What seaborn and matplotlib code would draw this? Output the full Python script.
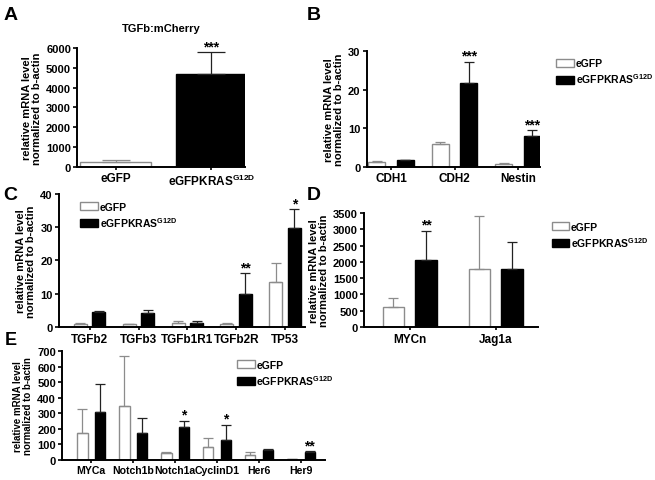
import numpy as np
import pandas as pd
import matplotlib
matplotlib.use('Agg')
import matplotlib.pyplot as plt
import seaborn as sns
from matplotlib.patches import Patch

# Panel A: TGFb:mCherry
a_groups = ['eGFP', 'eGFPKRAS']
a_means = [270, 4700]
a_errs = [90, 1080]
a_stars = ['', '***']

# Panel B
b_genes = ['CDH1', 'CDH2', 'Nestin']
b_gfp = [1.2, 5.8, 0.7]
b_gfp_err = [0.4, 0.6, 0.3]
b_kras = [1.8, 21.8, 8.0]
b_kras_err = [0.05, 5.4, 1.5]
b_gfp_stars = ['', '', '']
b_kras_stars = ['', '***', '***']

# Panel C
c_genes = ['TGFb2', 'TGFb3', 'TGFb1R1', 'TGFb2R', 'TP53']
c_gfp = [1.0, 0.9, 1.2, 0.9, 13.6]
c_gfp_err = [0.2, 0.1, 0.5, 0.2, 5.6]
c_kras = [4.5, 4.3, 1.3, 9.8, 29.8]
c_kras_err = [0.4, 0.9, 0.4, 6.3, 5.6]
c_gfp_stars = ['', '', '', '', '']
c_kras_stars = ['', '', '', '**', '*']

# Panel D
d_genes = ['MYCn', 'Jag1a']
d_gfp = [600, 1790]
d_gfp_err = [300, 1630]
d_kras = [2060, 1770]
d_kras_err = [900, 850]
d_gfp_stars = ['', '']
d_kras_stars = ['**', '']

# Panel E
e_genes = ['MYCa', 'Notch1b', 'Notch1a', 'CyclinD1', 'Her6', 'Her9']
e_gfp = [170, 345, 45, 80, 28, 5]
e_gfp_err = [155, 325, 8, 60, 22, 2]
e_kras = [310, 175, 210, 125, 65, 50]
e_kras_err = [175, 95, 40, 100, 3, 5]
e_gfp_stars = ['', '', '', '', '', '']
e_kras_stars = ['', '', '*', '*', '', '**']

KRAS = r'eGFPKRAS$^{\mathbf{G12D}}$'
YLAB = 'relative mRNA level\nnormalized to b-actin'

plt.rcParams['font.family'] = ['Liberation Sans', 'DejaVu Sans']
plt.rcParams['font.weight'] = 'bold'
plt.rcParams['axes.labelweight'] = 'bold'
plt.rcParams['mathtext.fontset'] = 'custom'
plt.rcParams['mathtext.bf'] = 'Liberation Sans:bold'
plt.rcParams['mathtext.rm'] = 'Liberation Sans:bold'

fig = plt.figure(figsize=(6.55, 4.81), dpi=100)
axA = fig.add_axes([0.118, 0.651, 0.256, 0.247])
axB = fig.add_axes([0.560, 0.651, 0.265, 0.241])
axC = fig.add_axes([0.090, 0.318, 0.375, 0.277])
axD = fig.add_axes([0.556, 0.318, 0.265, 0.237])
axE = fig.add_axes([0.095, 0.042, 0.401, 0.226])

pal = {'eGFP': 'white', 'eGFPKRAS': 'black'}
edge = {'eGFP': '#8c8c8c', 'eGFPKRAS': 'black'}
ecol = {'eGFP': '#8c8c8c', 'eGFPKRAS': '#222222'}


def style_axis(ax, ylim, yticks, ylab_size=8, xlab_size=8.5):
    ax.set_ylim(ylim)
    ax.set_yticks(yticks)
    sns.despine(ax=ax)
    for s in ['left', 'bottom']:
        ax.spines[s].set_linewidth(1.4)
    ax.tick_params(axis='y', labelsize=8, width=1.2, length=3, pad=1.5)
    ax.tick_params(axis='x', labelsize=xlab_size, width=1.2, length=2.5, pad=1.5)
    ax.set_xlabel('')
    ax.set_ylabel(YLAB, fontsize=ylab_size, labelpad=3, linespacing=1.0)
    for lab in ax.get_xticklabels() + ax.get_yticklabels():
        lab.set_fontweight('bold')


def add_errors(ax, errs_by_hue, stars_by_hue, star_off, capsize=3.5):
    for cont, hue in zip(ax.containers, ['eGFP', 'eGFPKRAS']):
        errs = errs_by_hue[hue]
        stars = stars_by_hue[hue]
        for bar, e, st in zip(cont, errs, stars):
            bar.set_edgecolor(edge[hue])
            bar.set_linewidth(1.0)
            x = bar.get_x() + bar.get_width() / 2
            h = bar.get_height()
            ax.errorbar(x, h, yerr=[[0], [e]], fmt='none', ecolor=ecol[hue],
                        elinewidth=0.9, capsize=capsize, capthick=0.9)
            if st:
                ax.text(x, h + e + star_off, st, ha='center', va='bottom',
                        fontsize=10, fontweight='bold')


# Panel A
dfA = pd.DataFrame({'group': a_groups, 'value': a_means})
sns.barplot(data=dfA, x='group', y='value', hue='group', palette=pal,
            errorbar=None, width=0.74, ax=axA, legend=False)
for cont, hue, e, st in zip(axA.containers, a_groups, a_errs, a_stars):
    bar = cont[0]
    bar.set_edgecolor(edge[hue])
    bar.set_linewidth(1.0)
    x = bar.get_x() + bar.get_width() / 2
    h = bar.get_height()
    axA.errorbar(x, h, yerr=[[0], [e]], fmt='none', ecolor=ecol[hue],
                 elinewidth=0.9, capsize=10, capthick=0.9)
    if st:
        axA.text(x, h + e - 60, st, ha='center', va='bottom', fontsize=10, fontweight='bold')
style_axis(axA, (0, 6000), [0, 1000, 2000, 3000, 4000, 5000, 6000])
axA.set_xlim(-0.4, 1.35)
axA.set_xticks([0, 1])
axA.set_xticklabels(['eGFP', KRAS], fontweight='bold')
axA.set_title('TGFb:mCherry', fontsize=8, fontweight='bold', pad=12)


def grouped(ax, genes, gfp, kras, gfp_err, kras_err, gfp_st, kras_st, width, gap, star_off):
    df = pd.DataFrame({
        'gene': genes * 2,
        'group': ['eGFP'] * len(genes) + ['eGFPKRAS'] * len(genes),
        'value': gfp + kras,
    })
    sns.barplot(data=df, x='gene', y='value', hue='group', palette=pal,
                errorbar=None, width=width, gap=gap, ax=ax, legend=False)
    add_errors(ax, {'eGFP': gfp_err, 'eGFPKRAS': kras_err},
               {'eGFP': gfp_st, 'eGFPKRAS': kras_st}, star_off)


handles = [Patch(facecolor='white', edgecolor='#8c8c8c', label='eGFP'),
           Patch(facecolor='black', edgecolor='black', label=KRAS)]
leg_kw = dict(frameon=False, fontsize=7.5, handlelength=1.7, handleheight=0.8,
              handletextpad=0.15, labelspacing=0.3, borderaxespad=0)

# Panel B
grouped(axB, b_genes, b_gfp, b_kras, b_gfp_err, b_kras_err, b_gfp_stars, b_kras_stars,
        0.9, 0.4, -0.3)
style_axis(axB, (0, 30), [0, 10, 20, 30])
axB.set_xlim(-0.38, 2.35)
fig.legend(handles=handles, loc='upper left', bbox_to_anchor=(0.843, 0.885), **leg_kw)

# Panel C
grouped(axC, c_genes, c_gfp, c_kras, c_gfp_err, c_kras_err, c_gfp_stars, c_kras_stars,
        0.76, 0.3, -0.4)
style_axis(axC, (0, 40), [0, 10, 20, 30, 40])
axC.set_xlim(-0.63, 4.4)
axC.legend(handles=handles, loc='upper left', bbox_to_anchor=(0.07, 0.97), **leg_kw)

# Panel D
grouped(axD, d_genes, d_gfp, d_kras, d_gfp_err, d_kras_err, d_gfp_stars, d_kras_stars,
        0.76, 0.35, -30)
style_axis(axD, (0, 3500), [0, 500, 1000, 1500, 2000, 2500, 3000, 3500])
axD.set_xlim(-0.53, 1.49)
fig.legend(handles=handles, loc='upper left', bbox_to_anchor=(0.836, 0.545), **leg_kw)

# Panel E
grouped(axE, e_genes, e_gfp, e_kras, e_gfp_err, e_kras_err, e_gfp_stars, e_kras_stars,
        0.85, 0.4, -5)
style_axis(axE, (0, 700), [0, 100, 200, 300, 400, 500, 600, 700], ylab_size=7, xlab_size=7.6)
axE.set_xlim(-0.69, 5.57)
axE.legend(handles=handles, loc='upper left', bbox_to_anchor=(0.65, 0.96), **leg_kw)

# panel letters
for lab, x, y, fs in [('A', 0.005, 0.985, 14), ('B', 0.468, 0.985, 14), ('C', 0.005, 0.612, 14),
                      ('D', 0.468, 0.612, 14), ('E', 0.008, 0.31, 13)]:
    fig.text(x, y, lab, fontsize=fs, fontweight='bold', va='top')

fig.savefig('out.png', dpi=100)
